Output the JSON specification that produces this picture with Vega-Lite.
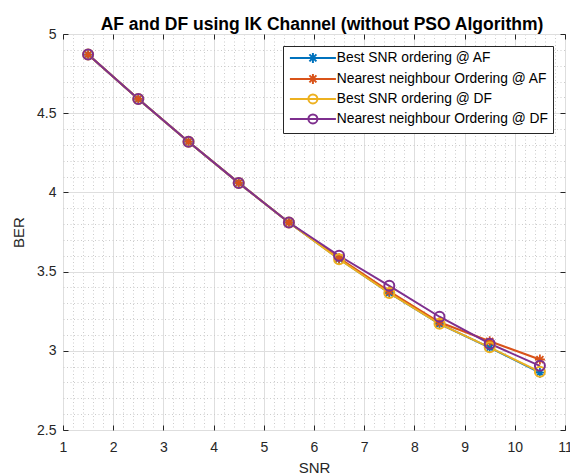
{
  "$schema": "https://vega.github.io/schema/vega-lite/v6.json",
  "width": 502,
  "height": 396,
  "autosize": "none",
  "padding": {"left": 63, "top": 34, "right": 5, "bottom": 46},
  "background": "white",
  "title": {"text": "AF and DF using IK Channel (without PSO Algorithm)", "font": "Liberation Sans", "fontSize": 17.5, "fontWeight": "bold", "color": "#000000", "anchor": "middle", "offset": -6, "dx": 8},
  "config": {
    "view": {"stroke": "#262626", "strokeWidth": 1},
    "axis": {"labelFont": "Liberation Sans", "labelFontSize": 14, "labelColor": "#262626", "titleFont": "Liberation Sans", "titleFontSize": 15, "titleFontWeight": "normal", "titleColor": "#262626", "domain": false, "tickColor": "#262626"}
  },
  "data": {"values": [
    {"snr": 1.5, "ber": 4.87, "series": "Best SNR ordering @ AF"},
    {"snr": 2.5, "ber": 4.59, "series": "Best SNR ordering @ AF"},
    {"snr": 3.5, "ber": 4.32, "series": "Best SNR ordering @ AF"},
    {"snr": 4.5, "ber": 4.06, "series": "Best SNR ordering @ AF"},
    {"snr": 5.5, "ber": 3.81, "series": "Best SNR ordering @ AF"},
    {"snr": 6.5, "ber": 3.58, "series": "Best SNR ordering @ AF"},
    {"snr": 7.5, "ber": 3.365, "series": "Best SNR ordering @ AF"},
    {"snr": 8.5, "ber": 3.17, "series": "Best SNR ordering @ AF"},
    {"snr": 9.5, "ber": 3.02, "series": "Best SNR ordering @ AF"},
    {"snr": 10.5, "ber": 2.862, "series": "Best SNR ordering @ AF"},
    {"snr": 1.5, "ber": 4.87, "series": "Nearest neighbour Ordering @ AF"},
    {"snr": 2.5, "ber": 4.59, "series": "Nearest neighbour Ordering @ AF"},
    {"snr": 3.5, "ber": 4.32, "series": "Nearest neighbour Ordering @ AF"},
    {"snr": 4.5, "ber": 4.06, "series": "Nearest neighbour Ordering @ AF"},
    {"snr": 5.5, "ber": 3.81, "series": "Nearest neighbour Ordering @ AF"},
    {"snr": 6.5, "ber": 3.585, "series": "Nearest neighbour Ordering @ AF"},
    {"snr": 7.5, "ber": 3.375, "series": "Nearest neighbour Ordering @ AF"},
    {"snr": 8.5, "ber": 3.18, "series": "Nearest neighbour Ordering @ AF"},
    {"snr": 9.5, "ber": 3.06, "series": "Nearest neighbour Ordering @ AF"},
    {"snr": 10.5, "ber": 2.945, "series": "Nearest neighbour Ordering @ AF"},
    {"snr": 1.5, "ber": 4.87, "series": "Best SNR ordering @ DF"},
    {"snr": 2.5, "ber": 4.59, "series": "Best SNR ordering @ DF"},
    {"snr": 3.5, "ber": 4.32, "series": "Best SNR ordering @ DF"},
    {"snr": 4.5, "ber": 4.06, "series": "Best SNR ordering @ DF"},
    {"snr": 5.5, "ber": 3.81, "series": "Best SNR ordering @ DF"},
    {"snr": 6.5, "ber": 3.578, "series": "Best SNR ordering @ DF"},
    {"snr": 7.5, "ber": 3.365, "series": "Best SNR ordering @ DF"},
    {"snr": 8.5, "ber": 3.17, "series": "Best SNR ordering @ DF"},
    {"snr": 9.5, "ber": 3.022, "series": "Best SNR ordering @ DF"},
    {"snr": 10.5, "ber": 2.867, "series": "Best SNR ordering @ DF"},
    {"snr": 1.5, "ber": 4.87, "series": "Nearest neighbour Ordering @ DF"},
    {"snr": 2.5, "ber": 4.59, "series": "Nearest neighbour Ordering @ DF"},
    {"snr": 3.5, "ber": 4.32, "series": "Nearest neighbour Ordering @ DF"},
    {"snr": 4.5, "ber": 4.06, "series": "Nearest neighbour Ordering @ DF"},
    {"snr": 5.5, "ber": 3.81, "series": "Nearest neighbour Ordering @ DF"},
    {"snr": 6.5, "ber": 3.60, "series": "Nearest neighbour Ordering @ DF"},
    {"snr": 7.5, "ber": 3.41, "series": "Nearest neighbour Ordering @ DF"},
    {"snr": 8.5, "ber": 3.215, "series": "Nearest neighbour Ordering @ DF"},
    {"snr": 9.5, "ber": 3.045, "series": "Nearest neighbour Ordering @ DF"},
    {"snr": 10.5, "ber": 2.905, "series": "Nearest neighbour Ordering @ DF"}
  ]},
  "layer": [
    {
      "mark": {"type": "line", "strokeWidth": 2},
      "encoding": {
        "x": {"field": "snr", "type": "quantitative", "scale": {"domain": [1, 11], "nice": false, "zero": false},
          "axis": {"orient": "bottom", "values": [1.2,1.4,1.6,1.8,2.2,2.4,2.6,2.8,3.2,3.4,3.6,3.8,4.2,4.4,4.6,4.8,5.2,5.4,5.6,5.8,6.2,6.4,6.6,6.8,7.2,7.4,7.6,7.8,8.2,8.4,8.6,8.8,9.2,9.4,9.6,9.8,10.2,10.4,10.6,10.8], "grid": true, "gridColor": "#cccccc", "gridDash": [1, 2.5], "gridWidth": 1, "labels": false, "ticks": false, "title": null}},
        "y": {"field": "ber", "type": "quantitative", "scale": {"domain": [2.5, 5], "nice": false, "zero": false},
          "axis": {"orient": "left", "values": [2.6,2.7,2.8,2.9,3.1,3.2,3.3,3.4,3.6,3.7,3.8,3.9,4.1,4.2,4.3,4.4,4.6,4.7,4.8,4.9], "grid": true, "gridColor": "#cccccc", "gridDash": [1, 2.5], "gridWidth": 1, "labels": false, "ticks": false, "title": null}},
        "color": {"field": "series", "type": "nominal",
          "scale": {"domain": ["Best SNR ordering @ AF", "Nearest neighbour Ordering @ AF", "Best SNR ordering @ DF", "Nearest neighbour Ordering @ DF"], "range": ["#0072BD", "#D95319", "#EDB120", "#7E2F8E"]},
          "legend": {"title": null, "orient": "top-right", "offset": 12, "fillColor": "white", "strokeColor": "#262626", "padding": 5, "rowPadding": 2, "labelFont": "Liberation Sans", "labelFontSize": 13.8, "labelColor": "#000000", "symbolOffset": 18, "labelOffset": 17, "symbolSize": 100, "symbolStrokeWidth": 2, "labelLimit": 400,
            "encode": {"symbols": {"update": {
              "shape": {"signal": "indexof(datum.value, '@ AF') >= 0 ? 'M-4.6,0L4.6,0M-1,0L1,0M0,-1L0,1M-0.7,-0.7L0.7,0.7M-0.7,0.7L0.7,-0.7' : 'M-4.6,0L4.6,0M0.9,0A0.9,0.9 0 1 1 -0.9,0A0.9,0.9 0 1 1 0.9,0'"},
              "fill": {"value": "transparent"},
              "strokeWidth": {"value": 2},
              "size": {"value": 100}
            }}}}
        }
      }
    },
    {
      "transform": [{"filter": "indexof(datum.series, '@ AF') >= 0"}],
      "mark": {"type": "point", "filled": false, "strokeWidth": 1.8, "size": 100, "opacity": 1, "shape": "M-1,0L1,0M0,-1L0,1M-0.7,-0.7L0.7,0.7M-0.7,0.7L0.7,-0.7"},
      "encoding": {
        "x": {"field": "snr", "type": "quantitative",
          "axis": {"orient": "bottom", "values": [1,2,3,4,5,6,7,8,9,10,11], "grid": true, "gridColor": "#dedede", "gridWidth": 1, "tickSize": -5, "labelPadding": 15, "labelFlush": false, "format": "d", "title": "SNR", "titlePadding": 6}},
        "y": {"field": "ber", "type": "quantitative",
          "axis": {"orient": "left", "values": [2.5,3,3.5,4,4.5,5], "grid": true, "gridColor": "#dedede", "gridWidth": 1, "tickSize": -5, "labelPadding": 12, "labelFlush": false, "format": "~g", "title": "BER", "titlePadding": 10}},
        "color": {"field": "series", "type": "nominal", "legend": null}
      }
    },
    {
      "transform": [{"filter": "indexof(datum.series, '@ DF') >= 0"}],
      "mark": {"type": "point", "filled": false, "strokeWidth": 2, "size": 100, "opacity": 1, "shape": "circle"},
      "encoding": {
        "x": {"field": "snr", "type": "quantitative",
          "axis": {"orient": "top", "values": [1,2,3,4,5,6,7,8,9,10,11], "grid": false, "tickSize": -5, "labels": false, "title": null}},
        "y": {"field": "ber", "type": "quantitative",
          "axis": {"orient": "right", "values": [2.5,3,3.5,4,4.5,5], "grid": false, "tickSize": -5, "labels": false, "title": null}},
        "color": {"field": "series", "type": "nominal", "legend": null}
      }
    }
  ],
  "resolve": {"axis": {"x": "independent", "y": "independent"}}
}
